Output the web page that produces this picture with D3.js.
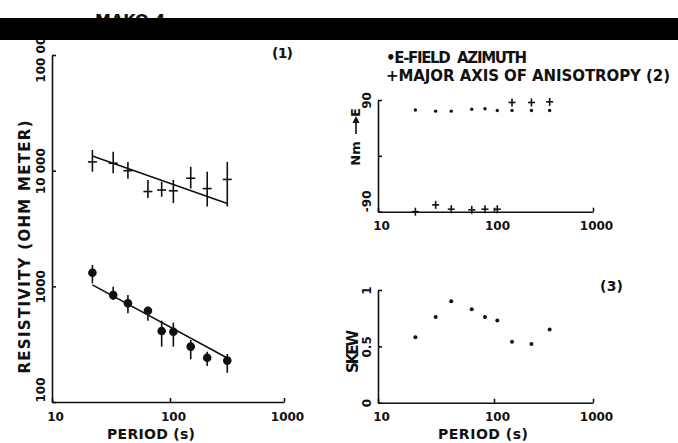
<!DOCTYPE html>
<html>
<head>
<meta charset="utf-8">
<script src="https://d3js.org/d3.v7.min.js"></script>
<style>
  body { margin: 0; background: #fff; }
  svg text { font-family: "DejaVu Sans", sans-serif; font-weight: bold; fill: #111; }
  .axis path, .axis line { stroke: #111; stroke-width: 1.6; }
  .mark { stroke: #111; stroke-width: 1.6; fill: none; }
</style>
</head>
<body>
<div id="fig"></div>
<script>
// ---- data ----
// (1) apparent resistivity, two curves with error bars
const periodRho   = [22, 33, 44, 65, 85, 107, 152, 212, 318];
const rhoUpper    = [11900, 11600, 10000, 6600, 6800, 6700, 8600, 7000, 8400];
const rhoUpperLo  = [9800, 9500, 8500, 5800, 5950, 5250, 7000, 4900, 4900];
const rhoUpperHi  = [15100, 14600, 11900, 8300, 8000, 8300, 10800, 9800, 11900];
const rhoLower    = [1310, 840, 713, 615, 411, 405, 301, 241, 228];
const rhoLowerLo  = [1060, 760, 584, 505, 301, 301, 234, 205, 179];
const rhoLowerHi  = [1530, 990, 840, 667, 505, 485, 344, 272, 260];
const fitUpper    = [13400, 5200];   // at first and last period
const fitLower    = [1030, 240];

// (2) azimuths and (3) skew
const periodAz    = [21, 31.4, 42.8, 64.3, 83.6, 108, 152, 239, 365];
const eAzimuth    = [74, 72, 72, 75, 76, 73, 73, 73, 73];
const majorAxis   = [-90, -79, -86, -87, -86, -86, 86, 86, 87];
const skew        = [0.58, 0.76, 0.9, 0.83, 0.76, 0.73, 0.54, 0.52, 0.65];

const periodTicks = [10, 100, 1000];
const rhoTicks    = [100, 1000, 10000, 100000];
const rhoLabels   = ["100", "1000", "10 000", "100 000"];
const azTicks     = [-90, 0, 90];
const azLabels    = ["-90", "", "90"];
const skewTicks   = [0, 0.5, 1];
const skewLabels  = ["0", "0.5", "1"];

const svg = d3.select("#fig").append("svg")
  .attr("width", 678).attr("height", 443);

// scales (the scanned axes are slightly uneven per decade)
const xRho  = d3.scaleLog().domain([10, 100, 1000]).range([52, 170, 284]);
const yRho  = d3.scaleLog().domain([100, 100000]).range([402, 55]);
const xAz   = d3.scaleLog().domain([10, 100, 1000]).range([378, 494, 593]);
const yAz   = d3.scaleLinear().domain([-90, 90]).range([211.7, 100]);
const ySkew = d3.scaleLinear().domain([0, 1]).range([402.7, 290]);

function bottomAxis(x, y0) {
  svg.append("g").attr("class", "axis")
    .attr("transform", "translate(0," + y0 + ")")
    .call(d3.axisBottom(x).tickValues(periodTicks).tickFormat(d3.format("d"))
      .tickSizeInner(-4).tickSizeOuter(0).tickPadding(10))
    .call(g => g.selectAll("text").attr("dx", 3).style("font-size", "12px"));
}

function leftAxis(y, x0, ticks, labels, startAtMin) {
  svg.append("g").attr("class", "axis")
    .attr("transform", "translate(" + x0 + ",0)")
    .call(d3.axisLeft(y).tickValues(ticks).tickFormat((d, i) => labels[i])
      .tickSizeInner(-4).tickSizeOuter(0))
    .call(g => g.selectAll("text")
      .attr("x", 0).attr("y", 0).attr("dy", 0)
      .attr("transform", "translate(-7,0) rotate(-90)")
      .attr("text-anchor", (d, i) => (startAtMin && i === 0) ? "start" : "middle")
      .style("font-size", "12px"));
}

// ---- panel (1) ----
bottomAxis(xRho, 402);
leftAxis(yRho, 52, rhoTicks, rhoLabels, true);

const up = periodRho.map((p, i) => ({ p: p, v: rhoUpper[i], lo: rhoUpperLo[i], hi: rhoUpperHi[i] }));
const lo = periodRho.map((p, i) => ({ p: p, v: rhoLower[i], lo: rhoLowerLo[i], hi: rhoLowerHi[i] }));

const line = d3.line().x(d => xRho(d[0])).y(d => yRho(d[1]));
const last = periodRho.length - 1;
svg.append("path").attr("class", "mark")
  .attr("d", line([[periodRho[0], fitUpper[0]], [periodRho[last], fitUpper[1]]]));
svg.append("path").attr("class", "mark")
  .attr("d", line([[periodRho[0], fitLower[0]], [periodRho[last], fitLower[1]]]));

[up, lo].forEach(set => {
  svg.append("g").selectAll("line").data(set).join("line").attr("class", "mark")
    .attr("x1", d => xRho(d.p)).attr("x2", d => xRho(d.p))
    .attr("y1", d => yRho(d.lo)).attr("y2", d => yRho(d.hi));
});
svg.append("g").selectAll("line").data(up).join("line").attr("class", "mark")
  .attr("x1", d => xRho(d.p) - 4.5).attr("x2", d => xRho(d.p) + 4.5)
  .attr("y1", d => yRho(d.v)).attr("y2", d => yRho(d.v));
svg.append("g").selectAll("circle").data(lo).join("circle")
  .attr("cx", d => xRho(d.p)).attr("cy", d => yRho(d.v))
  .attr("r", 4.3).attr("fill", "#111");

svg.append("text")
  .attr("transform", "translate(30,247) rotate(-90)")
  .attr("text-anchor", "middle").style("font-size", "15px")
  .attr("textLength", 253).attr("lengthAdjust", "spacing")
  .text("RESISTIVITY (OHM METER)");
svg.append("text").attr("x", 151).attr("y", 439)
  .attr("text-anchor", "middle").style("font-size", "14px")
  .attr("textLength", 88).attr("lengthAdjust", "spacing")
  .text("PERIOD (s)");
svg.append("text").attr("x", 272).attr("y", 58).style("font-size", "14px")
  .attr("textLength", 21).attr("lengthAdjust", "spacing").text("(1)");

// ---- panel (2) ----
bottomAxis(xAz, 211.7);
leftAxis(yAz, 378, azTicks, azLabels, true);

svg.append("g").selectAll("circle").data(periodAz).join("circle")
  .attr("cx", d => xAz(d)).attr("cy", (d, i) => yAz(eAzimuth[i]))
  .attr("r", 1.7).attr("fill", "#111");
const plus = svg.append("g").selectAll("g").data(periodAz).join("g")
  .attr("transform", (d, i) => "translate(" + xAz(d) + "," + yAz(majorAxis[i]) + ")");
plus.append("line").attr("class", "mark").attr("x1", -3.5).attr("x2", 3.5);
plus.append("line").attr("class", "mark").attr("y1", -4).attr("y2", 4);

svg.append("text")
  .attr("transform", "translate(360,153.5) rotate(-90)")
  .attr("text-anchor", "middle").style("font-size", "13px").text("Nm");
svg.append("line").attr("class", "mark").attr("x1", 356).attr("x2", 356)
  .attr("y1", 134).attr("y2", 120);
svg.append("path").attr("d", "M352.5,123 L356,116 L359.5,123 Z").attr("fill", "#111");
svg.append("text")
  .attr("transform", "translate(360,112.5) rotate(-90)")
  .attr("text-anchor", "middle").style("font-size", "13px").text("E");

svg.append("text").attr("x", 386).attr("y", 63).style("font-size", "15px")
  .style("white-space", "pre")
  .attr("textLength", 141).attr("lengthAdjust", "spacing")
  .text("\u2022E-FIELD  AZIMUTH");
svg.append("text").attr("x", 386).attr("y", 81).style("font-size", "15px")
  .attr("textLength", 284).attr("lengthAdjust", "spacing")
  .text("+MAJOR AXIS OF ANISOTROPY (2)");

// ---- panel (3) ----
bottomAxis(xAz, 402.7);
leftAxis(ySkew, 378, skewTicks, skewLabels, false);

svg.append("g").selectAll("circle").data(periodAz).join("circle")
  .attr("cx", d => xAz(d)).attr("cy", (d, i) => ySkew(skew[i]))
  .attr("r", 2).attr("fill", "#111");

svg.append("text")
  .attr("transform", "translate(358,351.5) rotate(-90)")
  .attr("text-anchor", "middle").style("font-size", "15px")
  .attr("textLength", 43).attr("lengthAdjust", "spacing").text("SKEW");
svg.append("text").attr("x", 483).attr("y", 439)
  .attr("text-anchor", "middle").style("font-size", "14px")
  .attr("textLength", 90).attr("lengthAdjust", "spacing")
  .text("PERIOD (s)");
svg.append("text").attr("x", 600).attr("y", 291).style("font-size", "14px")
  .attr("textLength", 23).attr("lengthAdjust", "spacing").text("(3)");

// ---- scanned page header, mostly hidden by the black strip ----
svg.append("text").attr("x", 95).attr("y", 26).style("font-size", "16px").text("MAKO 4");
svg.append("rect").attr("x", 0).attr("y", 18).attr("width", 678).attr("height", 22)
  .attr("fill", "#000");
</script>
</body>
</html>
